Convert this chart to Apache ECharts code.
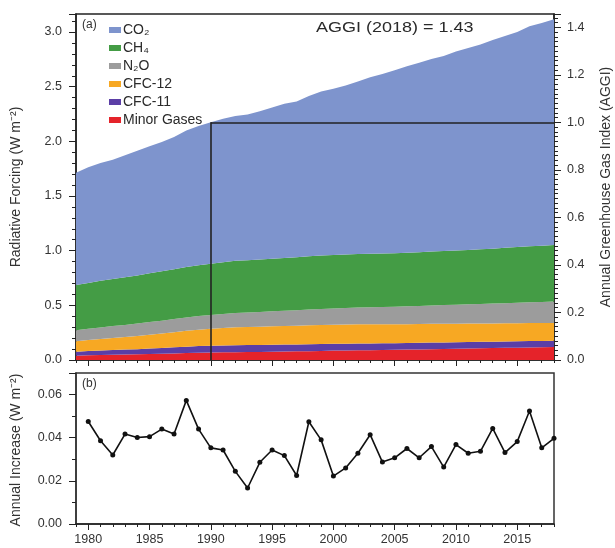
<!DOCTYPE html>
<html><head><meta charset="utf-8">
<script src="https://cdn.jsdelivr.net/npm/echarts@6/dist/echarts.min.js"></script>
<style>html,body{margin:0;padding:0;background:#fff}#c{width:615px;height:548px}</style>
</head><body><div id="c"></div><script>
const years = ['1979','1980','1981','1982','1983','1984','1985','1986','1987','1988',
'1989','1990','1991','1992','1993','1994','1995','1996','1997','1998',
'1999','2000','2001','2002','2003','2004','2005','2006','2007','2008',
'2009','2010','2011','2012','2013','2014','2015','2016','2017','2018'];
const co2 = [1.027,1.058,1.077,1.089,1.115,1.140,1.162,1.184,1.211,1.250,
1.274,1.293,1.313,1.324,1.334,1.356,1.383,1.410,1.426,1.467,
1.501,1.521,1.545,1.578,1.614,1.641,1.674,1.706,1.733,1.761,
1.783,1.819,1.846,1.872,1.909,1.937,1.967,2.012,2.038,2.064];
const ch4 = [0.412,0.419,0.426,0.432,0.436,0.441,0.446,0.451,0.456,0.461,
0.465,0.469,0.473,0.477,0.478,0.480,0.482,0.483,0.484,0.487,
0.489,0.489,0.489,0.489,0.490,0.490,0.489,0.489,0.491,0.493,
0.495,0.497,0.498,0.500,0.502,0.506,0.510,0.512,0.514,0.517];
const n2o = [0.102,0.104,0.107,0.109,0.111,0.114,0.116,0.118,0.120,0.122,
0.125,0.127,0.129,0.131,0.132,0.134,0.136,0.139,0.141,0.144,
0.147,0.149,0.152,0.154,0.156,0.158,0.160,0.163,0.165,0.168,
0.170,0.173,0.176,0.179,0.181,0.184,0.187,0.190,0.193,0.196];
const cfc12 = [0.095,0.100,0.105,0.110,0.115,0.120,0.126,0.132,0.138,0.145,
0.150,0.155,0.159,0.163,0.165,0.167,0.169,0.171,0.172,0.173,
0.174,0.174,0.175,0.175,0.175,0.174,0.174,0.173,0.173,0.172,
0.171,0.170,0.169,0.168,0.167,0.167,0.166,0.165,0.164,0.163];
const cfc11 = [0.036,0.039,0.041,0.043,0.045,0.047,0.050,0.053,0.056,0.059,
0.061,0.062,0.063,0.064,0.064,0.064,0.064,0.064,0.063,0.063,
0.063,0.062,0.062,0.062,0.061,0.061,0.061,0.060,0.060,0.060,
0.060,0.059,0.059,0.059,0.059,0.058,0.058,0.058,0.058,0.058];
const minor = [0.040,0.043,0.045,0.048,0.050,0.052,0.055,0.057,0.060,0.063,
0.066,0.068,0.070,0.072,0.073,0.074,0.076,0.077,0.079,0.081,
0.083,0.086,0.087,0.089,0.090,0.092,0.093,0.095,0.097,0.099,
0.101,0.103,0.105,0.107,0.109,0.111,0.113,0.115,0.116,0.118];
const increase = [null,
0.0475,0.0386,0.0320,0.0417,0.0401,0.0405,0.0440,0.0417,0.0573,0.0440,
0.0353,0.0343,0.0244,0.0167,0.0286,0.0343,0.0317,0.0225,0.0474,0.0390,
0.0222,0.0260,0.0328,0.0414,0.0287,0.0307,0.0350,0.0307,0.0359,0.0264,
0.0368,0.0328,0.0337,0.0443,0.0331,0.0382,0.0524,0.0353,0.0397];
const leftTicks = ['0.0','0.5','1.0','1.5','2.0','2.5','3.0'];
const rightTicks = ['0.0','0.2','0.4','0.6','0.8','1.0','1.2','1.4'];
const bottomTicks = ['0.00','0.02','0.04','0.06'];

const refYear = '1990';
const refIdx = years.indexOf(refYear);
const total1990 = co2[refIdx]+ch4[refIdx]+n2o[refIdx]+cfc12[refIdx]+cfc11[refIdx]+minor[refIdx];
const leftMax = 3.165;

const FONT = '"Liberation Sans", Arial, sans-serif';
const AX = '#222';
const TXT = '#333';

const chart = echarts.init(document.getElementById('c'), null, {renderer:'canvas'});

function xCat(grid, major, labels){
  return {
    type:'category', gridIndex:grid, data:years, boundaryGap:false, position:'bottom',
    axisLine:{show:major, lineStyle:{color:AX, width:1.5}},
    axisTick:{show:true, inside:false, length: major?6:3, lineStyle:{color:AX, width:1},
      interval: major ? (i,v)=>(+v)%5===0 : 0},
    axisLabel:{show:labels, margin:9, fontSize:12.5, fontFamily:FONT, color:TXT,
      interval:(i,v)=>(+v)%5===0},
    splitLine:{show:false}
  };
}

const stackCfg = [
  ['Minor Gases', minor, '#e5232a'],
  ['CFC-11', cfc11, '#5b3ea6'],
  ['CFC-12', cfc12, '#f7a823'],
  ['N\u2082O', n2o, '#9c9c9c'],
  ['CH\u2084', ch4, '#449c45'],
  ['CO\u2082', co2, '#7e94cd']
];
const series = stackCfg.map(([name,data,color],k)=>({
  name, type:'line', stack:'rf', xAxisIndex:0, yAxisIndex:0, data,
  symbol:'none', showSymbol:false, smooth:false,
  lineStyle:{width:0, color}, itemStyle:{color},
  areaStyle:{color, opacity:1}, z:2+k, silent:true, animation:false
}));
series.push({
  name:'ref', type:'line', xAxisIndex:0, yAxisIndex:0, data:[], z:20, animation:false,
  markLine:{silent:true, z:30, symbol:['none','none'], animation:false, label:{show:false},
    lineStyle:{color:'#222', width:1.6, type:'solid'},
    data:[
      [{coord:[refYear,0]},{coord:[refYear,total1990]}],
      [{coord:[refYear,total1990]},{coord:[years[years.length-1],total1990]}]
    ]}
});
series.push({
  name:'Annual Increase', type:'line', xAxisIndex:2, yAxisIndex:2, data:increase,
  symbol:'circle', symbolSize:5, showSymbol:true,
  lineStyle:{color:'#111', width:1.6}, itemStyle:{color:'#111'}, animation:false
});

const option = {
  backgroundColor:'#fff',
  animation:false,
  textStyle:{fontFamily:FONT},
  grid:[
    {left:76, right:61, top:14, height:346, show:true, borderColor:AX, borderWidth:1.5, backgroundColor:'transparent', outerBoundsMode:'none', containLabel:false},
    {left:76, right:61, top:373, height:151, show:true, borderColor:'#333', borderWidth:1.5, backgroundColor:'transparent', outerBoundsMode:'none', containLabel:false}
  ],
  xAxis:[ xCat(0,true,false), xCat(0,false,false), xCat(1,true,true), xCat(1,false,false) ],
  yAxis:[
    {type:'value', gridIndex:0, min:0, max:leftMax, interval:0.5, position:'left',
      axisLine:{show:true, lineStyle:{color:AX, width:1.5}},
      axisTick:{show:true, length:7, lineStyle:{color:AX}},
      minorTick:{show:true, splitNumber:5, length:4, lineStyle:{color:AX}},
      axisLabel:{margin:14, fontSize:12.5, fontFamily:FONT, color:TXT, showMaxLabel:false,
        formatter:v=>{const s=v.toFixed(1); return leftTicks.includes(s)?s:'';}},
      splitLine:{show:false}},
    {type:'value', gridIndex:0, min:0, max:leftMax/total1990, interval:0.2, position:'right',
      axisLine:{show:true, lineStyle:{color:AX, width:1.5}},
      axisTick:{show:true, length:7, lineStyle:{color:AX}},
      minorTick:{show:true, splitNumber:10, length:4, lineStyle:{color:AX}},
      axisLabel:{margin:13, fontSize:12.5, fontFamily:FONT, color:TXT, showMaxLabel:false,
        formatter:v=>{const s=v.toFixed(1); return rightTicks.includes(s)?s:'';}},
      splitLine:{show:false}},
    {type:'value', gridIndex:1, min:0, max:0.07, interval:0.02, position:'left',
      axisLine:{show:true, lineStyle:{color:'#333', width:1.5}},
      axisTick:{show:true, length:7, lineStyle:{color:AX}},
      minorTick:{show:true, splitNumber:2, length:4, lineStyle:{color:AX}},
      axisLabel:{margin:14, fontSize:12.5, fontFamily:FONT, color:TXT, showMaxLabel:false,
        formatter:v=>{const s=v.toFixed(2); return bottomTicks.includes(s)?s:'';}},
      splitLine:{show:false}}
  ],
  legend:{
    orient:'vertical', left:104, top:18, itemGap:4, itemWidth:12, itemHeight:6,
    icon:'rect', selectedMode:false,
    data:['CO\u2082','CH\u2084','N\u2082O','CFC-12','CFC-11','Minor Gases'],
    textStyle:{fontSize:14, lineHeight:14, fontFamily:FONT, color:'#2a2a2a', padding:[0,0,0,-3]}
  },
  graphic:[
    {type:'text', x:82, y:25, z:50, style:{text:'(a)', font:'12px '+FONT, fill:TXT, verticalAlign:'middle', textVerticalAlign:'middle'}},
    {type:'text', x:82, y:384, z:50, style:{text:'(b)', font:'12px '+FONT, fill:TXT, verticalAlign:'middle', textVerticalAlign:'middle'}},
    {type:'text', x:316, y:28, scaleX:1.2, z:50, style:{text:'AGGI (2018) = 1.43', font:'15px '+FONT, fill:'#2a2a2a', verticalAlign:'middle', textVerticalAlign:'middle'}},
    {type:'text', x:16, y:187, rotation:Math.PI/2, z:50, style:{text:'Radiative Forcing (W m\u207B\u00B2)', font:'14px '+FONT, fill:TXT, align:'center', textAlign:'center', verticalAlign:'middle', textVerticalAlign:'middle'}},
    {type:'text', x:16, y:450, rotation:Math.PI/2, z:50, style:{text:'Annual Increase (W m\u207B\u00B2)', font:'14px '+FONT, fill:TXT, align:'center', textAlign:'center', verticalAlign:'middle', textVerticalAlign:'middle'}},
    {type:'text', x:606, y:187, rotation:Math.PI/2, z:50, style:{text:'Annual Greenhouse Gas Index (AGGI)', font:'14px '+FONT, fill:TXT, align:'center', textAlign:'center', verticalAlign:'middle', textVerticalAlign:'middle'}}
  ],
  series
};
chart.setOption(option);
</script></body></html>
